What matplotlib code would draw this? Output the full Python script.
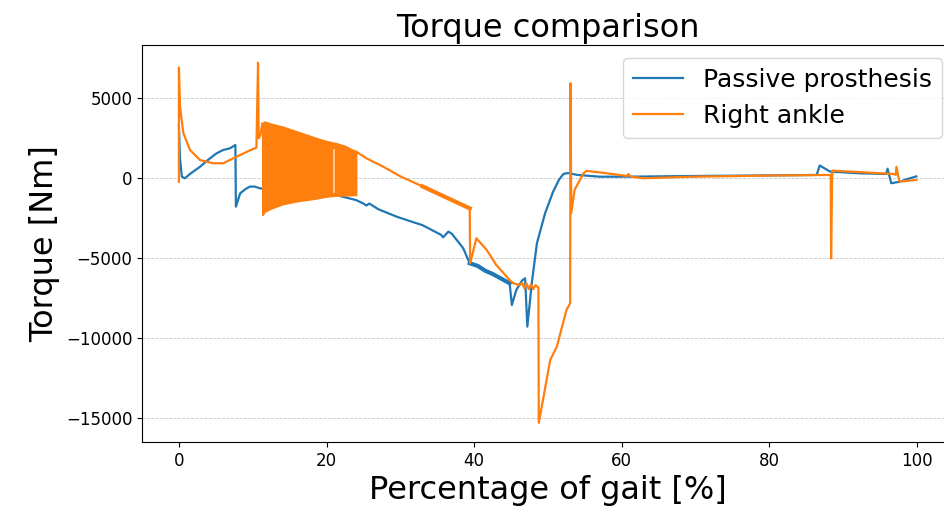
import matplotlib
matplotlib.use("Agg")
import matplotlib.pyplot as plt

# ---- Passive prosthesis torque (percentage of gait, Nm) ----
passive_pct = [0.0, 0.15, 0.4, 0.8, 1.5, 2.85, 4.0, 5.1, 6.0, 6.9, 7.65,
               7.72, 8.3, 9.0, 9.6, 10.3, 11.0, 12.0, 14.0, 16.0, 18.0,
               20.0, 20.6, 22.0, 24.0, 25.0, 25.4, 25.8, 27.0, 29.5, 31.0,
               33.0, 35.5, 35.8, 36.5, 37.0, 38.5, 39.4, 40.5, 41.5, 42.5,
               43.5, 44.8, 45.1, 45.7, 46.5, 46.9, 47.2, 47.8, 48.5, 49.6,
               50.7, 51.5, 52.1, 52.7, 54.0, 57.0, 60.7, 70.0, 80.0, 86.4,
               86.8, 88.2, 92.3, 95.8, 96.0, 96.5, 97.7, 98.6, 99.9]
passive_torque = [3300, 1200, 80, -20, 250, 700, 1150, 1540, 1750, 1850, 2060,
                  -1790, -960, -700, -540, -540, -650, -700, -850, -950, -1050,
                  -1150, -940, -1150, -1380, -1600, -1720, -1600, -1950, -2420,
                  -2650, -2950, -3550, -3710, -3350, -3500, -4380, -5330, -5500,
                  -5800, -6000, -6250, -6580, -7940, -7000, -6400, -6270, -9290,
                  -6580, -4080, -2210, -850, -100, 250, 310, 190, 80, 80, 125,
                  160, 190, 780, 400, 290, 250, 580, -330, -230, -80, 100]

# ---- Right ankle torque (percentage of gait, Nm) ----
ankle_pct = [0.0, 0.0, 0.15, 0.6, 1.5, 2.85, 4.6, 6.0, 7.8, 9.5, 10.5,
             10.72, 10.8, 11.05, 11.3]
ankle_torque = [-230, 6900, 4460, 2810, 1750, 1125, 920, 920, 1330, 1700, 1900,
                7200, 2480, 2690, 3400]

# dense oscillation between 11.3 % and 24 % of gait: upper / lower envelope
band_pct = [11.3, 11.6, 12.5, 14.1, 16.0, 18.7, 20.0, 21.3, 22.5, 24.0]
band_upper = [3400, 3520, 3380, 3200, 2900, 2480, 2300, 2170, 2000, 1650]
band_lower = [-2310, -2100, -1900, -1625, -1450, -1270, -1150, -1100, -1080, -1060]
gap_pct, gap_low, gap_high = 21.0, -850, 1750

ankle2_pct = [24.0, 25.4, 27.7, 30.0, 33.0, 36.0, 39.4, 39.45, 40.3, 41.7,
              43.0, 44.8, 45.3, 46.2, 46.5, 46.8, 47.1, 47.4, 47.7, 48.0,
              48.3, 48.7, 48.75, 49.4, 50.3, 51.2, 52.5, 53.0, 53.05, 53.15,
              53.6, 54.8, 55.2, 57.0, 60.7, 60.9, 61.1, 62.9, 69.7, 80.0,
              88.3, 88.35, 88.5, 96.8, 97.1, 97.2, 97.6, 99.9]
ankle2_torque = [1650, 1230, 700, 100, -525, -1170, -1900, -5330, -3770, -4500,
                 -5440, -6375, -6580, -6690, -6550, -6900, -6600, -6950, -6650,
                 -6950, -6700, -6850, -15300, -13670, -11375, -10540, -8250,
                 -7830, 5920, -2200, -750, 290, 440, 350, 125, 250, 100, -20,
                 80, 150, 190, -5020, 460, 250, 190, 700, -230, -125]

blue = "#1f77b4"
orange = "#ff7f0e"

fig = plt.figure(figsize=(9.44, 5.15), dpi=100)
ax = fig.add_axes([142 / 944, (515 - 442) / 515, (954 - 142) / 944, (442 - 45) / 515])

ax.plot(passive_pct, passive_torque, color=blue, lw=1.6, label="Passive prosthesis")
# noisier stretch of the prosthesis signal drawn heavier
ax.plot(passive_pct[37:43], passive_torque[37:43], color=blue, lw=3.0)

ax.plot(ankle_pct, ankle_torque, color=orange, lw=1.6, label="Right ankle", zorder=3)
ax.fill_between(band_pct, band_lower, band_upper, color=orange, lw=1.2,
                edgecolor=orange, zorder=3)
ax.plot([gap_pct, gap_pct], [gap_low, gap_high], color="#ffd2a8", lw=1.2, zorder=3)
ax.plot([ankle_pct[-1], band_pct[0]], [ankle_torque[-1], band_upper[0]],
        color=orange, lw=1.6, zorder=3)
ax.plot(ankle2_pct, ankle2_torque, color=orange, lw=1.6, zorder=3)
# noisier stretch of the ankle signal drawn heavier
ax.plot(ankle2_pct[4:7], ankle2_torque[4:7], color=orange, lw=3.0, zorder=3)

ax.set_xlim(-5, 105)
ax.set_ylim(-16500, 8310)
ax.set_xticks([0, 20, 40, 60, 80, 100])
ax.set_yticks([-15000, -10000, -5000, 0, 5000])
ax.tick_params(labelsize=12)
ax.yaxis.grid(True, linestyle="--", linewidth=0.6, color="#c8c8c8")
ax.set_axisbelow(True)

ax.set_title("Torque comparison", fontsize=23)
ax.set_xlabel("Percentage of gait [%]", fontsize=23)
ax.set_ylabel("Torque [Nm]", fontsize=23)
ax.legend(loc="upper right", fontsize=18)

fig.savefig("out.png", dpi=100)
